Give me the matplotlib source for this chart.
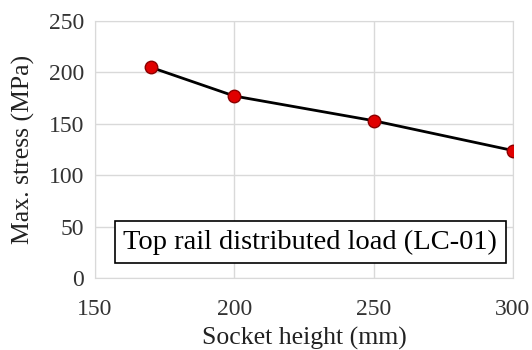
import matplotlib
matplotlib.use('Agg')
import matplotlib.pyplot as plt

# socket height vs max stress
socket_height = [170, 200, 250, 300]
max_stress = [205, 177, 153, 124]

plt.rcParams['font.family'] = ['Liberation Serif', 'DejaVu Serif']

fig = plt.figure(figsize=(5.32, 3.5), dpi=100)
ax = fig.add_axes([95/532, 72/350, 418/532, 257/350])

ax.plot(socket_height, max_stress, color='black', lw=2, marker='o',
        markersize=9, markerfacecolor='#e00000', markeredgecolor='#8b0000',
        markeredgewidth=1, zorder=3)

ax.set_xlim(150, 300)
ax.set_ylim(0, 250)
ax.set_xticks([150, 200, 250, 300])
ax.set_yticks([0, 50, 100, 150, 200, 250])
ax.grid(True, color='#d9d9d9', lw=1)
ax.set_axisbelow(True)
for s in ax.spines.values():
    s.set_color('#d9d9d9')
ax.tick_params(length=0, labelsize=17, colors='#333333', pad=8)
ax.tick_params(axis='x', pad=15)

ax.set_xlabel('Socket height (mm)', fontsize=18.5, color='#222222', labelpad=5)
ax.set_ylabel('Max. stress (MPa)', fontsize=18.5, color='#222222', labelpad=10)

ax.text(0.515, 0.14, 'Top rail distributed load (LC-01)', transform=ax.transAxes,
        ha='center', va='center', fontsize=20.5,
        bbox=dict(boxstyle='square,pad=0.3', facecolor='white', edgecolor='black', lw=1.2))

fig.savefig('out.png', dpi=100)
